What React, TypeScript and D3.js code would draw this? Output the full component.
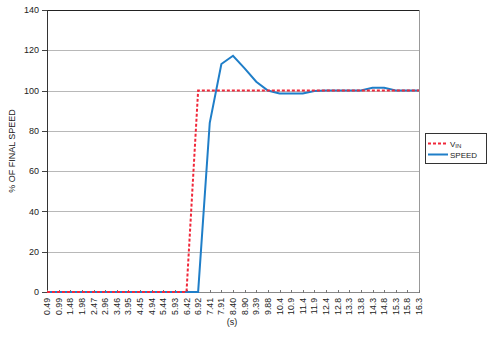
import React from "react";
import * as d3 from "d3";

const categories = ["0.49","0.99","1.48","1.98","2.47","2.96","3.46","3.95","4.45","4.94","5.44","5.93","6.42","6.92","7.41","7.91","8.40","8.90","9.39","9.88","10.4","10.9","11.4","11.9","12.4","12.8","13.3","13.8","14.3","14.8","15.3","15.8","16.3"];
const vinValues = [0,0,0,0,0,0,0,0,0,0,0,0,0,100,100,100,100,100,100,100,100,100,100,100,100,100,100,100,100,100,100,100,100];
const speedValues = [0,0,0,0,0,0,0,0,0,0,0,0,0,0,84,113.2,117.3,111,104.4,100,98.6,98.5,98.5,99.8,100,100,100,100,101.4,101.4,100,100,100];
const yTicks = [0,20,40,60,80,100,120,140];

const W = 493, H = 339;
const left = 47, right = 419, top = 10, bottom = 292;

export default function App() {
  const x = d3.scalePoint<string>().domain(categories).range([left, right]);
  const y = d3.scaleLinear().domain([0, 140]).range([bottom, top]);
  const line = d3.line<number>().x((_, i) => x(categories[i])!).y(d => y(d));
  const font = "Liberation Sans, Arial, sans-serif";
  return (
    <svg width={W} height={H} style={{ position: "absolute", left: 0, top: 0 }} fontFamily={font}>
      <rect x={0} y={0} width={W} height={H} fill="#fff" />
      {yTicks.map(t => (
        <g key={t}>
          <line x1={left} x2={right} y1={Math.round(y(t)) + 0.5} y2={Math.round(y(t)) + 0.5} stroke={t === 140 ? "#222" : "#b8b8b8"} strokeWidth={1} />
          <line x1={left - 5} x2={left} y1={Math.round(y(t)) + 0.5} y2={Math.round(y(t)) + 0.5} stroke="#444" />
          <text x={left - 8} y={y(t)} dy="0.35em" textAnchor="end" fontSize={9} fill="#222">{t}</text>
        </g>
      ))}
      <line x1={right + 0.5} x2={right + 0.5} y1={top} y2={bottom} stroke="#999" />
      <line x1={left + 0.5} x2={left + 0.5} y1={top} y2={bottom + 1} stroke="#333" />
      <line x1={left} x2={right} y1={bottom + 0.5} y2={bottom + 0.5} stroke="#888" />
      {categories.map(c => (
        <g key={c}>
          <line x1={Math.round(x(c)!) + 0.5} x2={Math.round(x(c)!) + 0.5} y1={bottom - 2} y2={bottom + 1} stroke="#777" />
          <text transform={`translate(${x(c)! + 3},${bottom + 6}) rotate(-90)`} textAnchor="end" fontSize={8.7} fill="#222">{c}</text>
        </g>
      ))}
      <path d={line(speedValues)!} fill="none" stroke="#1f7ec8" strokeWidth={2} />
      <path d={line(vinValues)!} fill="none" stroke="#f0283a" strokeWidth={2} strokeDasharray="3,2" />
      <text x={232} y={325} textAnchor="middle" fontSize={9} fill="#222">(s)</text>
      <text transform={`translate(15,${(top + bottom) / 2}) rotate(-90)`} textAnchor="middle" fontSize={9} fill="#222">% OF FINAL SPEED</text>
      <rect x={425.5} y={133.5} width={61} height={30} fill="#fff" stroke="#333" />
      <line x1={428} x2={448} y1={143.5} y2={143.5} stroke="#f0283a" strokeWidth={2} strokeDasharray="3,2" />
      <line x1={428} x2={448} y1={154.5} y2={154.5} stroke="#1f7ec8" strokeWidth={2} />
      <text x={450} y={146.5} fontSize={8} fill="#222">V<tspan fontSize={6} dy={1.5}>IN</tspan></text>
      <text x={450} y={157.5} fontSize={8} fill="#222">SPEED</text>
    </svg>
  );
}
